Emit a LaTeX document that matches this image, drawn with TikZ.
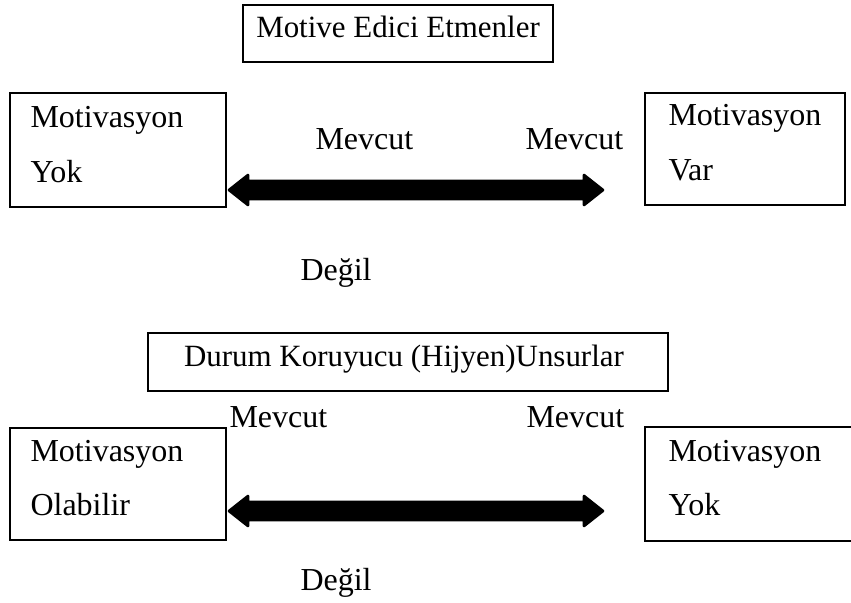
\documentclass[tikz,border=0pt]{standalone}
\usepackage{fontspec}
\setmainfont{Liberation Serif}
\usetikzlibrary{calc}
\begin{document}
\begin{tikzpicture}[x=0.375pt,y=-0.375pt,
  box/.style={draw=black,line width=1.1pt},
  lbl/.style={anchor=base west,inner sep=0pt,font=\fontsize{12pt}{14pt}\selectfont},
  clbl/.style={anchor=base,inner sep=0pt,font=\fontsize{11.6pt}{14pt}\selectfont},
  bigarrow/.style={fill=black,draw=black,line width=1pt,line join=round}]
\useasboundingbox (0,0) rectangle (851,602);
% top title box
\draw[box] (243,5) rectangle (553,62);
\node[clbl] (t1) at (398,37) {Motive Edici Etmenler};
% top left box
\draw[box] (10,93) rectangle (226,207);
\node[lbl] (tl1) at (30,127) {Motivasyon};
\node[lbl] (tl2) at (30,182) {Yok};
% top right box
\draw[box] (645,93) rectangle (845,205);
\node[lbl] (tr1) at (668,125) {Motivasyon};
\node[lbl] (tr2) at (668,180) {Var};
% labels top
\node[lbl] (m1) at (315,149) {Mevcut};
\node[lbl] (m2) at (525,149) {Mevcut};
\node[lbl] (d1) at (300,280) {Değil};
% top arrow
\coordinate (aL) at (229,190);
\coordinate (aR) at (603,190);
\fill[bigarrow] (aL) -- ($(aL)+(19,-15)$) -- ($(aL)+(19,-9)$) -- ($(aR)+(-19,-9)$) -- ($(aR)+(-19,-15)$)
  -- (aR) -- ($(aR)+(-19,15)$) -- ($(aR)+(-19,9)$) -- ($(aL)+(19,9)$) -- ($(aL)+(19,15)$) -- cycle;
% hygiene box
\draw[box] (148,333) rectangle (668,391);
\node[clbl] (t2) at (404,366) {Durum Koruyucu (Hijyen)Unsurlar};
% bottom labels
\node[lbl] (m3) at (229,427) {Mevcut};
\node[lbl] (m4) at (526,427) {Mevcut};
% bottom left box
\draw[box] (10,428) rectangle (226,540);
\node[lbl] (bl1) at (30,461) {Motivasyon};
\node[lbl] (bl2) at (30,515) {Olabilir};
% bottom right box
\draw[box] (645,427) rectangle (854,541);
\node[lbl] (br1) at (668,461) {Motivasyon};
\node[lbl] (br2) at (668,515) {Yok};
% bottom arrow
\coordinate (bL) at (229,511);
\coordinate (bR) at (603,511);
\fill[bigarrow] (bL) -- ($(bL)+(19,-15)$) -- ($(bL)+(19,-9)$) -- ($(bR)+(-19,-9)$) -- ($(bR)+(-19,-15)$)
  -- (bR) -- ($(bR)+(-19,15)$) -- ($(bR)+(-19,9)$) -- ($(bL)+(19,9)$) -- ($(bL)+(19,15)$) -- cycle;
\node[lbl] (d2) at (300,590) {Değil};
\end{tikzpicture}
\end{document}
